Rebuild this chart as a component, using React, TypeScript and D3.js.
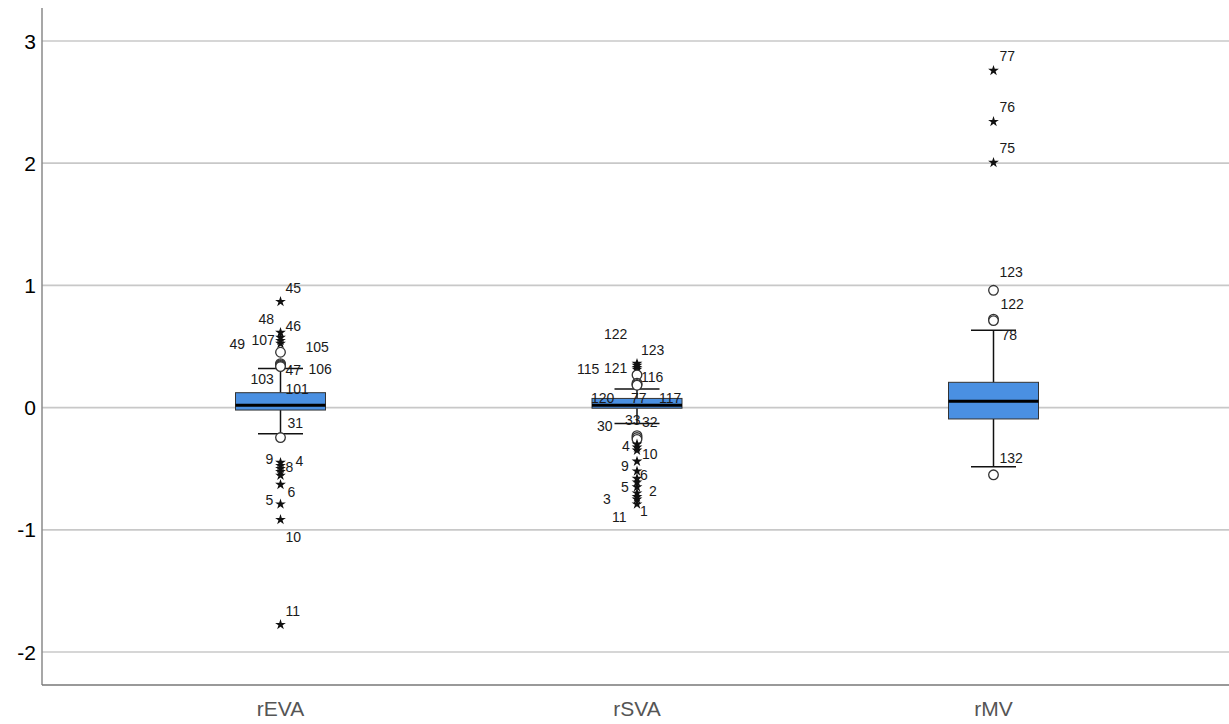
import React from "react";
import * as d3 from "d3";

const W = 1229;
const H = 724;

const categories = ["rEVA", "rSVA", "rMV"];
const yTicks = [-2, -1, 0, 1, 2, 3];

// box statistics per category: [lowerWhisker, q1, median, q3, upperWhisker]
const boxStats: number[][] = [
  [-0.213, -0.02, 0.02, 0.122, 0.319],
  [-0.13, -0.005, 0.02, 0.075, 0.153],
  [-0.485, -0.093, 0.052, 0.207, 0.633],
];

// outliers: [category, case id, value, kind]  kind: "o" = outlier, "*" = extreme
const outliersEVA: [string, string, number, string][] = [
  ["rEVA", "45", 0.867, "*"],
  ["rEVA", "46", 0.614, "*"],
  ["rEVA", "48", 0.573, "*"],
  ["rEVA", "107", 0.548, "*"],
  ["rEVA", "49", 0.524, "*"],
  ["rEVA", "105", 0.453, "o"],
  ["rEVA", "47", 0.36, "o"],
  ["rEVA", "106", 0.352, "o"],
  ["rEVA", "103", 0.344, "o"],
  ["rEVA", "101", 0.336, "o"],
  ["rEVA", "31", -0.245, "o"],
  ["rEVA", "9", -0.45, "*"],
  ["rEVA", "4", -0.475, "*"],
  ["rEVA", "8", -0.5, "*"],
  ["rEVA", "7", -0.525, "*"],
  ["rEVA", "3", -0.555, "*"],
  ["rEVA", "6", -0.63, "*"],
  ["rEVA", "5", -0.79, "*"],
  ["rEVA", "10", -0.917, "*"],
  ["rEVA", "11", -1.776, "*"],
];
const outliersSVA: [string, string, number, string][] = [
  ["rSVA", "122", 0.36, "*"],
  ["rSVA", "123", 0.344, "*"],
  ["rSVA", "121", 0.327, "*"],
  ["rSVA", "115", 0.311, "*"],
  ["rSVA", "116", 0.267, "o"],
  ["rSVA", "77", 0.2, "o"],
  ["rSVA", "117", 0.19, "o"],
  ["rSVA", "120", 0.183, "o"],
  ["rSVA", "33", -0.23, "o"],
  ["rSVA", "30", -0.245, "o"],
  ["rSVA", "32", -0.26, "o"],
  ["rSVA", "4", -0.3, "*"],
  ["rSVA", "8", -0.325, "*"],
  ["rSVA", "10", -0.35, "*"],
  ["rSVA", "9", -0.44, "*"],
  ["rSVA", "6", -0.52, "*"],
  ["rSVA", "7", -0.58, "*"],
  ["rSVA", "5", -0.61, "*"],
  ["rSVA", "2", -0.65, "*"],
  ["rSVA", "3", -0.7, "*"],
  ["rSVA", "12", -0.73, "*"],
  ["rSVA", "1", -0.75, "*"],
  ["rSVA", "11", -0.79, "*"],
];
const outliersMV: [string, string, number, string][] = [
  ["rMV", "77", 2.758, "*"],
  ["rMV", "76", 2.34, "*"],
  ["rMV", "75", 2.005, "*"],
  ["rMV", "123", 0.96, "o"],
  ["rMV", "122", 0.724, "o"],
  ["rMV", "78", 0.712, "o"],
  ["rMV", "132", -0.55, "o"],
];

// label placement (offset from marker, px) keyed by "category:id"; missing = no label
const labelPlacement: Record<string, [number, number]> = {
  "rEVA:45": [5, -14], "rEVA:46": [5, -6], "rEVA:48": [-22, -18], "rEVA:107": [-29, -1],
  "rEVA:49": [-51, 1], "rEVA:105": [25, -5], "rEVA:47": [5, 6], "rEVA:106": [28, 5],
  "rEVA:103": [-30, 14], "rEVA:101": [5, 23], "rEVA:31": [7, -14], "rEVA:9": [-15, -3],
  "rEVA:4": [15, -5], "rEVA:8": [5, -2], "rEVA:6": [7, 8], "rEVA:5": [-15, -4],
  "rEVA:10": [5, 17], "rEVA:11": [5, -14],
  "rSVA:122": [-33, -30], "rSVA:123": [4, -15], "rSVA:121": [-33, 0], "rSVA:115": [-60, 0],
  "rSVA:116": [4, 2], "rSVA:120": [-46, 13], "rSVA:77": [-6, 15], "rSVA:117": [22, 14],
  "rSVA:30": [-40, -11], "rSVA:33": [-12, -16], "rSVA:32": [5, -17], "rSVA:4": [-15, 2],
  "rSVA:10": [5, 4], "rSVA:9": [-16, 5], "rSVA:6": [3, 4], "rSVA:5": [-16, 5],
  "rSVA:2": [12, 4], "rSVA:3": [-34, 6], "rSVA:1": [3, 12], "rSVA:11": [-25, 13],
  "rMV:77": [6, -14], "rMV:76": [6, -15], "rMV:75": [6, -14], "rMV:123": [6, -18],
  "rMV:122": [7, -15], "rMV:78": [8, 15], "rMV:132": [6, -17],
};

const FONT = "Arial, 'Liberation Sans', sans-serif";

export default function App() {
  const left = 42;
  const bottom = 685;
  const top = 8;
  const y = d3.scaleLinear().domain([-2, 3]).range([652, 41]);
  const x = d3.scalePoint<string>().domain(categories).range([280.5, 993.5]);
  const boxW = 90;
  const capW = 45;
  const star = d3.symbol().type(d3.symbolStar).size(36)();
  const allOutliers = [...outliersEVA, ...outliersSVA, ...outliersMV];

  return (
    <svg
      width={W}
      height={H}
      style={{ position: "absolute", left: 0, top: 0, background: "#fff" }}
      fontFamily={FONT}
    >
      {/* grid lines */}
      {yTicks.map((t) => (
        <line key={"g" + t} x1={left} x2={W} y1={y(t)} y2={y(t)} stroke="#c8c8c8" strokeWidth={1.7} />
      ))}
      {/* axes */}
      <line x1={left} x2={left} y1={top} y2={bottom} stroke="#8a8a8a" strokeWidth={1.5} />
      <line x1={left} x2={W} y1={bottom} y2={bottom} stroke="#777" strokeWidth={1.6} />
      {yTicks.map((t) => (
        <text key={"t" + t} x={36} y={y(t)} dy="0.36em" textAnchor="end" fontSize={21} fill="#000">
          {t}
        </text>
      ))}
      {categories.map((c) => (
        <text key={"c" + c} x={x(c)} y={716} textAnchor="middle" fontSize={21} fill="#555">
          {c}
        </text>
      ))}
      {/* boxes */}
      {categories.map((c, i) => {
        const [lo, q1, med, q3, hi] = boxStats[i];
        const cx = x(c)!;
        return (
          <g key={"b" + c}>
            <line x1={cx} x2={cx} y1={y(hi)} y2={y(q3)} stroke="#111" strokeWidth={1.5} />
            <line x1={cx} x2={cx} y1={y(q1)} y2={y(lo)} stroke="#111" strokeWidth={1.5} />
            <line x1={cx - capW / 2} x2={cx + capW / 2} y1={y(hi)} y2={y(hi)} stroke="#111" strokeWidth={1.5} />
            <line x1={cx - capW / 2} x2={cx + capW / 2} y1={y(lo)} y2={y(lo)} stroke="#111" strokeWidth={1.5} />
            <rect
              x={cx - boxW / 2}
              y={y(q3)}
              width={boxW}
              height={y(q1) - y(q3)}
              fill="#4a90e2"
              stroke="#333"
              strokeWidth={1}
            />
            <line x1={cx - boxW / 2} x2={cx + boxW / 2} y1={y(med)} y2={y(med)} stroke="#000" strokeWidth={3} />
          </g>
        );
      })}
      {/* outliers */}
      {allOutliers.map(([c, id, v, k]) => {
        const cx = x(c)!;
        const cy = y(v);
        return k === "o" ? (
          <circle key={"p" + c + id} cx={cx} cy={cy} r={4.8} fill="#fff" stroke="#333" strokeWidth={1.3} />
        ) : (
          <path key={"p" + c + id} d={star!} transform={`translate(${cx},${cy})`} fill="#111" />
        );
      })}
      {/* labels */}
      {allOutliers.map(([c, id, v]) => {
        const off = labelPlacement[c + ":" + id];
        if (!off) return null;
        return (
          <text
            key={"l" + c + id}
            x={x(c)! + off[0]}
            y={y(v) + off[1]}
            dy="0.35em"
            fontSize={14}
            fill="#1a1a1a"
          >
            {id}
          </text>
        );
      })}
    </svg>
  );
}
